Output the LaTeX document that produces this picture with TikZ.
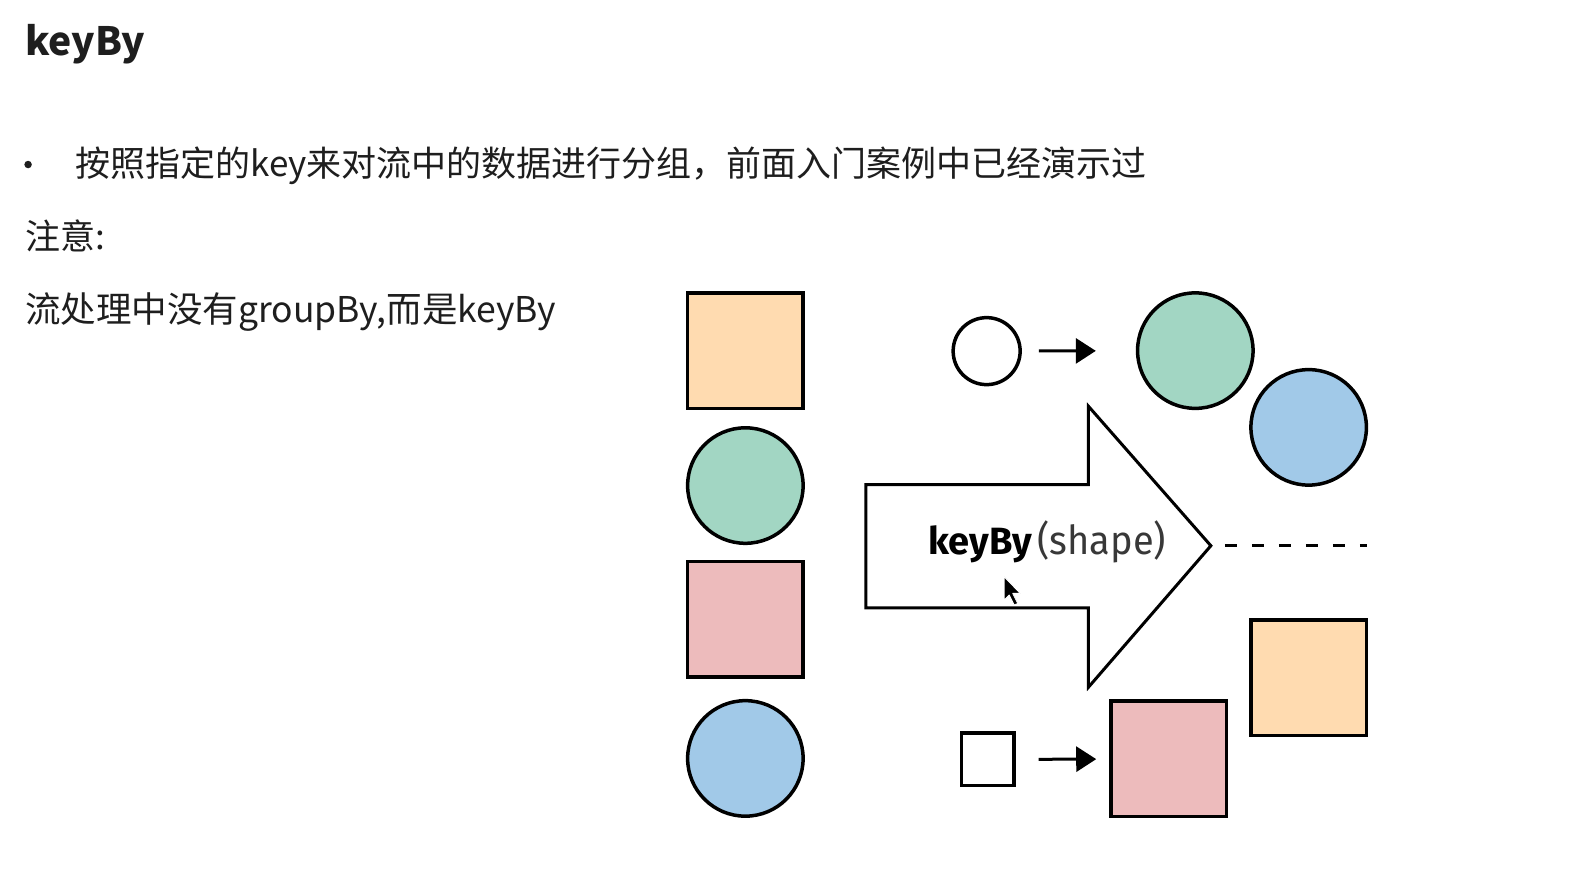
\documentclass[tikz,border=0pt]{standalone}
\usepackage{fontspec}
\usetikzlibrary{arrows.meta}
\setmainfont{Noto Sans CJK SC}
\newfontfamily\lab{Fira Sans}
\newfontfamily\labc{Fira Sans}[FakeStretch=0.95]
\definecolor{peach}{HTML}{FFDBB0}
\definecolor{mint}{HTML}{A2D6C3}
\definecolor{rose}{HTML}{EDBBBC}
\definecolor{sky}{HTML}{A1C9E8}
\definecolor{ink}{HTML}{1E1E1E}
\begin{document}
\begin{tikzpicture}[x=1.00319pt,y=-1.00319pt,
  sq/.style={draw=black,line width=3.5pt,rectangle,minimum size=115.5pt,inner sep=0pt},
  rnd/.style={draw=black,line width=3.5pt,circle,minimum size=115.5pt,inner sep=0pt},
  txt/.style={anchor=base west,inner sep=0pt,text=ink,font=\fontsize{35}{40}\selectfont},
  conn/.style={line width=3pt,-{Triangle[length=20pt,width=25pt]}}]
\fill[white] (0,0) rectangle (1568,866.2);
\useasboundingbox (0,0) rectangle (1568,866.2);
% texts
\node[txt,font=\fontsize{39}{44}\selectfont\bfseries] (title) at (25,55) {keyBy};
\node[circle,fill=ink,minimum size=7.5pt,inner sep=0pt] (bul) at (28,164) {};
\node[txt] (l1) at (75,176) {按照指定的key来对流中的数据进行分组，前面入门案例中已经演示过};
\node[txt] (l2) at (25,249) {注意:};
\node[txt,font=\fontsize{35.5}{40}\selectfont] (l3) at (25,321) {流处理中没有groupBy,而是keyBy};
% left column
\node[sq,fill=peach] (s1) at (743,349.5) {};
\node[rnd,fill=mint] (c1) at (743,484) {};
\node[sq,fill=rose] (s2) at (743,617.5) {};
\node[rnd,fill=sky] (c2) at (743,756) {};
% big arrow
\draw[line width=3pt,line join=miter,fill=white]
  (863,483) -- (1085,483) -- (1085,405) -- (1207,544) coordinate (tip)
  -- (1085,685) -- (1085,606) -- (863,606) -- cycle;
\node[anchor=base west,inner sep=0pt,text=black,font=\lab\bfseries\fontsize{38}{40}\selectfont] (kb) at (925,553) {keyBy};
\node[anchor=base west,inner sep=0pt,text=black!78,font=\labc\fontsize{40}{40}\selectfont] (sh) at (1034,553) {(shape)};
\coordinate (dend) at (1363,544);
\draw[line width=3pt,dash pattern=on 12pt off 15pt,shorten <=14pt] (tip) -- (dend);
% top right
\node[circle,draw=black,line width=3.5pt,minimum size=67pt,inner sep=0pt,fill=white] (wc) at (983.5,350) {};
\node[rnd,fill=mint] (gc) at (1191.5,349.5) {};
\node[rnd,fill=sky] (bc) at (1304.5,426) {};
\draw[conn,shorten <=17pt,shorten >=40pt] (wc) -- (gc);
% bottom right
\node[rectangle,draw=black,line width=3.5pt,minimum size=52.5pt,inner sep=0pt,fill=white] (ws) at (984.5,757) {};
\node[sq,fill=rose] (ps) at (1165,756.5) {};
\node[sq,fill=peach] (os) at (1304.5,675.5) {};
\draw[conn,shorten <=23pt,shorten >=13pt] (ws) -- (ps);
% mouse cursor
\draw[fill=black,draw=white,line width=0.8pt,line join=round]
  (1001,575) -- ++(0,23) -- ++(5,-5) -- ++(5,10) -- ++(3.5,-1.5) -- ++(-5,-10) -- ++(7.5,0) -- cycle;
\end{tikzpicture}
\end{document}
